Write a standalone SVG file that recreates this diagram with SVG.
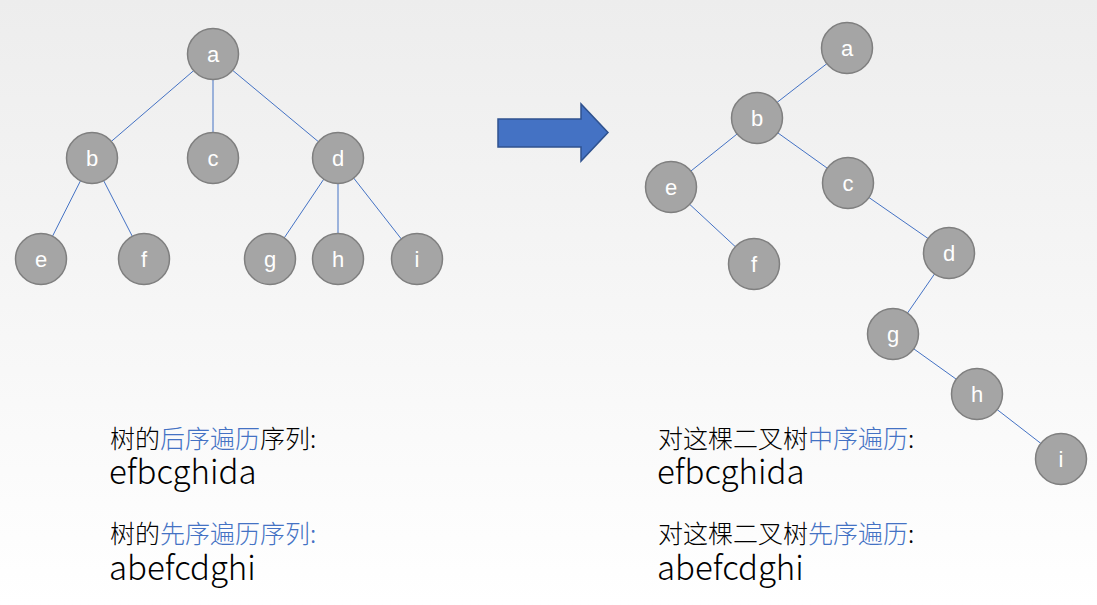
<svg xmlns="http://www.w3.org/2000/svg" width="1097" height="605" viewBox="0 0 1097 605">
<defs>
<linearGradient id="bg" x1="0" y1="0" x2="0" y2="1">
<stop offset="0" stop-color="#ededed"/>
<stop offset="1" stop-color="#ffffff"/>
</linearGradient>
</defs>
<style>
.n circle{fill:#a5a5a5;stroke:#7f7f7f;stroke-width:1.5}
.n text{fill:#ffffff;font-family:"Liberation Sans","Noto Sans",sans-serif;font-size:22px;text-anchor:middle}
.e line{stroke:#4472c4;stroke-width:1}
.t{font-family:"Noto Sans CJK SC","Noto Sans",sans-serif;font-size:25px;fill:#000;font-weight:300}
.s{font-family:"Noto Sans CJK SC","Noto Sans",sans-serif;font-size:33px;fill:#000;font-weight:300}
.b{fill:#4472c4}
</style>
<rect width="1097" height="605" fill="url(#bg)"/>
<g id="connectors" class="e">
<line x1="213" y1="54" x2="92" y2="158"/>
<line x1="213" y1="54" x2="213" y2="158"/>
<line x1="213" y1="54" x2="338" y2="158"/>
<line x1="92" y1="158" x2="41" y2="259"/>
<line x1="92" y1="158" x2="144" y2="259"/>
<line x1="338" y1="158" x2="270" y2="259"/>
<line x1="338" y1="158" x2="338" y2="259"/>
<line x1="338" y1="158" x2="417" y2="259"/>
<line x1="847" y1="48" x2="757" y2="118"/>
<line x1="757" y1="118" x2="671" y2="187"/>
<line x1="757" y1="118" x2="848" y2="183"/>
<line x1="671" y1="187" x2="754" y2="264"/>
<line x1="848" y1="183" x2="949" y2="253"/>
<line x1="949" y1="253" x2="893" y2="334"/>
<line x1="893" y1="334" x2="977" y2="394"/>
<line x1="977" y1="394" x2="1061" y2="459"/>
</g>
<g id="L-a" class="n"><circle cx="213" cy="54" r="25.5"/><text x="213" y="62">a</text></g>
<g id="L-b" class="n"><circle cx="92" cy="158" r="25.5"/><text x="92" y="166">b</text></g>
<g id="L-c" class="n"><circle cx="213" cy="158" r="25.5"/><text x="213" y="166">c</text></g>
<g id="L-d" class="n"><circle cx="338" cy="158" r="25.5"/><text x="338" y="166">d</text></g>
<g id="L-e" class="n"><circle cx="41" cy="259" r="25.5"/><text x="41" y="267">e</text></g>
<g id="L-f" class="n"><circle cx="144" cy="259" r="25.5"/><text x="144" y="267">f</text></g>
<g id="L-g" class="n"><circle cx="270" cy="259" r="25.5"/><text x="270" y="267">g</text></g>
<g id="L-h" class="n"><circle cx="338" cy="259" r="25.5"/><text x="338" y="267">h</text></g>
<g id="L-i" class="n"><circle cx="417" cy="259" r="25.5"/><text x="417" y="267">i</text></g>
<g id="arrow"><path d="M498,119 L581,119 L581,104 L608,132.5 L581,161 L581,147 L498,147 Z" fill="#4472c4" stroke="#2f528f" stroke-width="1.5"/></g>
<g id="R-a" class="n"><circle cx="847" cy="48" r="25.5"/><text x="847" y="56">a</text></g>
<g id="R-b" class="n"><circle cx="757" cy="118" r="25.5"/><text x="757" y="126">b</text></g>
<g id="R-e" class="n"><circle cx="671" cy="187" r="25.5"/><text x="671" y="195">e</text></g>
<g id="R-c" class="n"><circle cx="848" cy="183" r="25.5"/><text x="848" y="191">c</text></g>
<g id="R-f" class="n"><circle cx="754" cy="264" r="25.5"/><text x="754" y="272">f</text></g>
<g id="R-d" class="n"><circle cx="949" cy="253" r="25.5"/><text x="949" y="261">d</text></g>
<g id="R-g" class="n"><circle cx="893" cy="334" r="25.5"/><text x="893" y="342">g</text></g>
<g id="R-h" class="n"><circle cx="977" cy="394" r="25.5"/><text x="977" y="402">h</text></g>
<g id="R-i" class="n"><circle cx="1061" cy="459" r="25.5"/><text x="1061" y="467">i</text></g>
<g id="texts">
<text class="t" x="110" y="448">树的<tspan class="b">后序遍历</tspan>序列:</text>
<text class="s" x="109" y="484">efbcghida</text>
<text class="t" x="110" y="543">树的<tspan class="b">先序遍历序列:</tspan></text>
<text class="s" x="109" y="580">abefcdghi</text>
<text class="t" x="658" y="448">对这棵二叉树<tspan class="b">中序遍历</tspan>:</text>
<text class="s" x="657" y="484">efbcghida</text>
<text class="t" x="658" y="543">对这棵二叉树<tspan class="b">先序遍历</tspan>:</text>
<text class="s" x="657" y="580">abefcdghi</text>
</g>
</svg>
